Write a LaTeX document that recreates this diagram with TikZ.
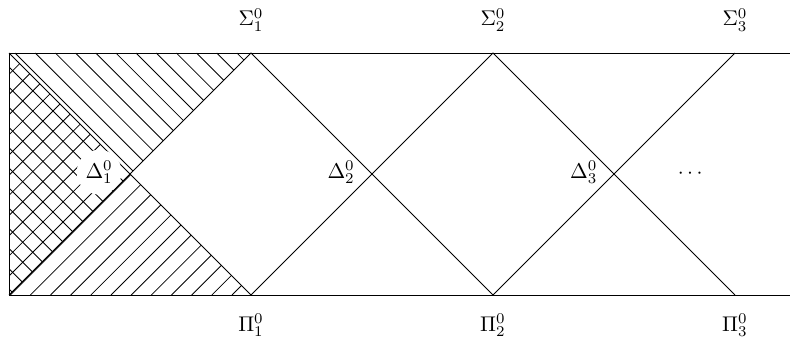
\documentclass[tikz,border=0pt]{standalone}
\usepackage{amsmath}
\usepackage{amssymb}
\usepackage{tikz}

\begin{document}
\begin{tikzpicture}[
    hatch/.style={draw,line width=0.4pt},
    edge/.style={draw,line width=0.4pt},
    lbl/.style={inner sep=1pt,font=\normalsize},
    clearlbl/.style={circle,fill=white,inner sep=0.6pt,minimum size=0.74cm}
]
    \useasboundingbox (-0.149,-0.727) rectangle (12.91,4.876);
    \coordinate (s0) at (0,4);  \coordinate (p0) at (0,0);
    \coordinate (s1) at (4,4);  \coordinate (p1) at (4,0);
    \coordinate (s2) at (8,4);  \coordinate (p2) at (8,0);
    \coordinate (s3) at (12,4); \coordinate (p3) at (12,0);
    \coordinate (send) at (12.91,4); \coordinate (pend) at (12.91,0);

    % hatching of the Sigma and Pi parts
    \begin{scope}
        \clip (s0) -- (s1) -- (p0) -- cycle;
        \foreach \k in {-13,...,12}
            \draw[hatch] ({0.1+\k/3},4) -- ({4.1+\k/3},0);
    \end{scope}
    \begin{scope}
        \clip (s0) -- (p1) -- (p0) -- cycle;
        \foreach \k in {-12,...,12}
            \draw[hatch] ({0.02+\k/3},0) -- ({4.02+\k/3},4);
    \end{scope}

    \draw[edge] (send) -- (s0) -- (p0) -- (pend);
    \draw[edge] (p0) -- (s1) -- (p2) -- (s3);
    \draw[edge] (s0) -- (p1) -- (s2) -- (p3);

    \node[lbl] (sig1) at (4,4.55) {$\Sigma^0_1$};
    \node[lbl] (sig2) at (8,4.55) {$\Sigma^0_2$};
    \node[lbl] (sig3) at (12,4.55) {$\Sigma^0_3$};
    \node[lbl] (pi1) at (4,-0.5) {$\Pi^0_1$};
    \node[lbl] (pi2) at (8,-0.5) {$\Pi^0_2$};
    \node[lbl] (pi3) at (12,-0.5) {$\Pi^0_3$};
    \node[lbl,clearlbl] (del1) at (1.49,2.03) {$\Delta^0_1$};
    \node[lbl] (del2) at (5.49,2.03) {$\Delta^0_2$};
    \node[lbl] (del3) at (9.5,2.03) {$\Delta^0_3$};
    \node[lbl] (dots) at (11.29,2) {$\cdots$};
\end{tikzpicture}
\end{document}
